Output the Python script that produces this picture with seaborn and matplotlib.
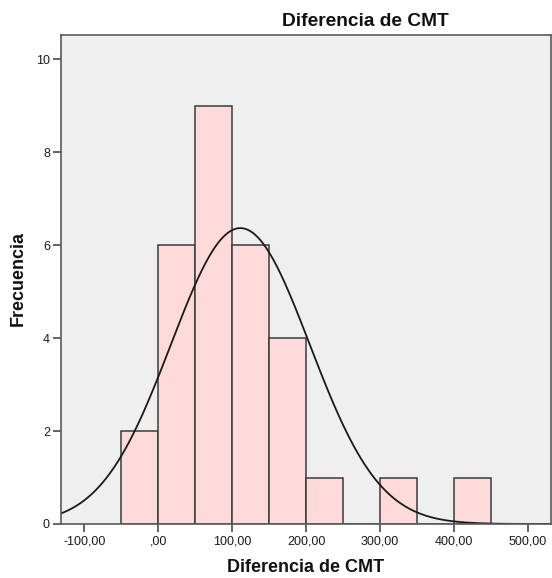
import numpy as np
import pandas as pd
import matplotlib
matplotlib.use("Agg")
import matplotlib.pyplot as plt
from matplotlib.ticker import FixedLocator, FuncFormatter
import seaborn as sns

# Histogram of "Diferencia de CMT" (bin width 50)
bin_edges = [-50, 0, 50, 100, 150, 200, 250, 300, 350, 400, 450]
counts = [2, 6, 9, 6, 4, 1, 0, 1, 0, 1]

# Fitted normal curve parameters
n_obs = 30
mean_cmt = 111.0
sd_cmt = 94.0

x_ticks = [-100, 0, 100, 200, 300, 400, 500]
y_ticks = [0, 2, 4, 6, 8, 10]

title = "Diferencia de CMT"
xlabel = "Diferencia de CMT"
ylabel = "Frecuencia"

sns.set_style("white")
plt.rcParams["font.family"] = ["Liberation Sans", "DejaVu Sans"]

bin_mids = [(a + b) / 2 for a, b in zip(bin_edges[:-1], bin_edges[1:])]
df = pd.DataFrame({"mid": bin_mids, "count": counts})

fig = plt.figure(figsize=(5.52, 5.78), dpi=100)
ax = fig.add_axes([61 / 552, 54 / 578, 490 / 552, 489 / 578])
ax.set_facecolor("#efefef")

sns.histplot(data=df, x="mid", weights="count", bins=bin_edges, ax=ax,
             color="#ffdada", alpha=1.0, edgecolor="#3a3a3a", linewidth=1.1)

xlim = (-131.8, 531.6)
xs = np.linspace(xlim[0], xlim[1], 400)
binw = bin_edges[1] - bin_edges[0]
ys = n_obs * binw / (sd_cmt * np.sqrt(2 * np.pi)) * np.exp(-0.5 * ((xs - mean_cmt) / sd_cmt) ** 2)
sns.lineplot(x=xs, y=ys, ax=ax, color="#1a1a1a", linewidth=1.3)

ax.set_xlim(*xlim)
ax.set_ylim(0, 10.52)
ax.xaxis.set_major_locator(FixedLocator(x_ticks))
ax.yaxis.set_major_locator(FixedLocator(y_ticks))


def comma_fmt(v, pos):
    s = f"{v:.2f}".replace(".", ",")
    if s.startswith("0,"):
        s = s[1:]
    return s


ax.xaxis.set_major_formatter(FuncFormatter(comma_fmt))
ax.yaxis.set_major_formatter(FuncFormatter(lambda v, p: f"{int(v)}"))
ax.tick_params(axis="both", direction="out", length=6, width=1.1,
               color="#3a3a3a", labelsize=9, pad=2, labelcolor="#1a1a1a")
ax.tick_params(axis="both", which="both", bottom=True, left=True)

for sp in ax.spines.values():
    sp.set_color("#5a5a5a")
    sp.set_linewidth(1.2)

ax.set_xlabel("")
ax.set_ylabel("")
fig.text(306 / 552, 1 - 568 / 578, xlabel, ha="center", va="center",
         fontsize=13, fontweight="bold", color="#111111")
fig.text(18 / 552, 1 - 278 / 578, ylabel, ha="center", va="center",
         rotation=90, fontsize=13, fontweight="bold", color="#111111")
fig.text(365 / 552, 1 - 21 / 578, title, ha="center", va="center",
         fontsize=13.8, fontweight="bold", color="#111111")

fig.savefig("out.png", dpi=100)
